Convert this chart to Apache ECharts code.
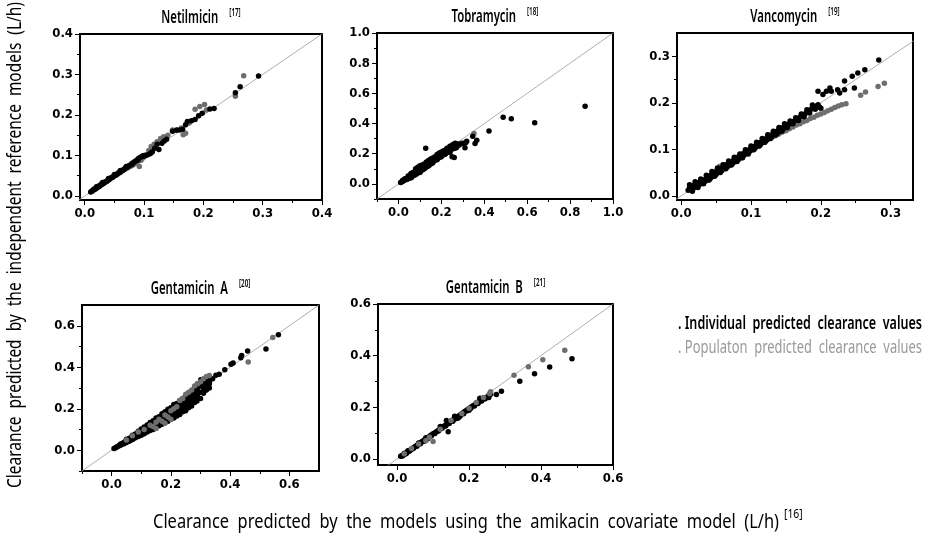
<!DOCTYPE html>
<html>
<head>
<meta charset="utf-8">
<script src="https://cdn.jsdelivr.net/npm/echarts@6/dist/echarts.min.js"></script>
<style>
html, body { margin: 0; padding: 0; background: #fff; }
#chart { width: 925px; height: 547px; }
</style>
</head>
<body>
<div id="chart"></div>
<script>
// values, [x, y] in L/h
var netIndiv = [[0.010,0.010],[0.013,0.012],[0.015,0.016],[0.017,0.016],[0.019,0.019],[0.021,0.020],[0.023,0.023],[0.025,0.024],[0.027,0.027],[0.029,0.028],[0.031,0.031],[0.033,0.032],[0.035,0.035],[0.037,0.036],[0.039,0.039],[0.041,0.040],[0.043,0.043],[0.045,0.045],[0.047,0.046],[0.049,0.049],[0.051,0.051],[0.053,0.052],[0.055,0.055],[0.057,0.057],[0.059,0.058],[0.061,0.061],[0.063,0.063],[0.065,0.064],[0.067,0.067],[0.069,0.069],[0.071,0.070],[0.073,0.073],[0.075,0.075],[0.078,0.077],[0.080,0.081],[0.083,0.083],[0.085,0.086],[0.088,0.088],[0.090,0.092],[0.093,0.095],[0.096,0.097],[0.098,0.099],[0.100,0.098],[0.103,0.100],[0.106,0.102],[0.110,0.104],[0.112,0.107],[0.114,0.109],[0.118,0.118],[0.122,0.128],[0.125,0.115],[0.130,0.130],[0.134,0.136],[0.138,0.140],[0.148,0.160],[0.155,0.163],[0.160,0.163],[0.165,0.165],[0.170,0.176],[0.173,0.184],[0.180,0.186],[0.186,0.189],[0.192,0.198],[0.198,0.204],[0.211,0.215],[0.218,0.216],[0.254,0.255],[0.262,0.270],[0.293,0.296],[0.020,0.023],[0.030,0.033],[0.040,0.043],[0.050,0.053],[0.060,0.063],[0.070,0.073],[0.080,0.078],[0.090,0.089]];
var netPop = [[0.012,0.013],[0.016,0.018],[0.020,0.022],[0.024,0.026],[0.028,0.030],[0.032,0.033],[0.036,0.036],[0.040,0.041],[0.044,0.045],[0.048,0.047],[0.052,0.051],[0.056,0.054],[0.060,0.058],[0.064,0.062],[0.068,0.066],[0.072,0.069],[0.076,0.072],[0.080,0.075],[0.084,0.079],[0.088,0.082],[0.092,0.073],[0.095,0.088],[0.098,0.094],[0.102,0.101],[0.108,0.112],[0.112,0.122],[0.117,0.128],[0.122,0.134],[0.128,0.142],[0.133,0.146],[0.140,0.150],[0.148,0.163],[0.155,0.162],[0.163,0.168],[0.166,0.151],[0.170,0.155],[0.176,0.180],[0.186,0.214],[0.194,0.221],[0.202,0.226],[0.205,0.212],[0.254,0.246],[0.268,0.297]];

var tobIndiv = [[0.010,0.010],[0.014,0.013],[0.018,0.016],[0.022,0.020],[0.026,0.024],[0.030,0.027],[0.034,0.030],[0.038,0.034],[0.042,0.037],[0.046,0.041],[0.050,0.045],[0.054,0.048],[0.058,0.052],[0.062,0.056],[0.066,0.060],[0.070,0.064],[0.074,0.068],[0.078,0.072],[0.082,0.076],[0.086,0.080],[0.090,0.085],[0.094,0.089],[0.098,0.093],[0.102,0.097],[0.106,0.101],[0.110,0.106],[0.114,0.110],[0.118,0.114],[0.122,0.118],[0.126,0.123],[0.130,0.127],[0.134,0.131],[0.138,0.135],[0.142,0.140],[0.146,0.144],[0.150,0.148],[0.154,0.152],[0.158,0.157],[0.162,0.161],[0.166,0.165],[0.170,0.169],[0.174,0.174],[0.178,0.178],[0.182,0.183],[0.186,0.187],[0.190,0.191],[0.195,0.196],[0.200,0.200],[0.205,0.205],[0.210,0.209],[0.215,0.214],[0.220,0.218],[0.225,0.222],[0.230,0.226],[0.235,0.230],[0.240,0.235],[0.245,0.238],[0.250,0.242],[0.255,0.245],[0.260,0.250],[0.265,0.253],[0.270,0.256],[0.080,0.100],[0.090,0.110],[0.060,0.040],[0.100,0.075],[0.120,0.100],[0.140,0.120],[0.160,0.140],[0.150,0.165],[0.180,0.160],[0.200,0.180],[0.220,0.200],[0.240,0.210],[0.250,0.180],[0.127,0.237],[0.300,0.270],[0.310,0.239],[0.313,0.272],[0.318,0.283],[0.346,0.316],[0.357,0.268],[0.365,0.290],[0.422,0.350],[0.488,0.442],[0.526,0.431],[0.635,0.405],[0.870,0.514],
  [0.020,0.025],[0.030,0.035],[0.040,0.030],[0.045,0.052],[0.050,0.038],[0.055,0.062],[0.060,0.070],[0.065,0.050],[0.070,0.078],[0.075,0.058],[0.080,0.088],[0.085,0.065],[0.095,0.105],[0.100,0.120],[0.105,0.085],[0.110,0.125],[0.115,0.095],[0.120,0.132],[0.125,0.105],[0.130,0.145],[0.135,0.115],[0.140,0.155],[0.145,0.125],[0.150,0.160],[0.155,0.135],[0.160,0.172],[0.165,0.150],[0.170,0.180],[0.175,0.160],[0.180,0.195],[0.185,0.170],[0.190,0.205],[0.195,0.178],[0.200,0.212],[0.205,0.190],[0.210,0.220],[0.215,0.195],[0.225,0.235],[0.230,0.210],[0.240,0.250],[0.245,0.225],[0.255,0.260],[0.260,0.235],[0.265,0.270],[0.270,0.240],[0.275,0.265],[0.280,0.255],[0.290,0.265],[0.260,0.175]];
var tobPop = [[0.050,0.050],[0.100,0.102],[0.150,0.155],[0.200,0.205],[0.230,0.240],[0.250,0.260],[0.260,0.268],[0.270,0.262],[0.290,0.270],[0.352,0.334]];

var vanIndiv = [[0.010,0.012],[0.012,0.018],[0.014,0.015],[0.016,0.022],[0.018,0.017],[0.020,0.024],[0.022,0.020],[0.024,0.028],[0.026,0.024],[0.028,0.031],[0.030,0.027],[0.032,0.034],[0.034,0.031],[0.036,0.038],[0.038,0.034],[0.040,0.042],[0.042,0.038],[0.044,0.046],[0.046,0.042],[0.048,0.050],[0.050,0.046],[0.052,0.054],[0.054,0.050],[0.056,0.058],[0.058,0.054],[0.060,0.062],[0.062,0.058],[0.064,0.066],[0.066,0.062],[0.068,0.070],[0.070,0.066],[0.072,0.074],[0.074,0.070],[0.076,0.078],[0.078,0.074],[0.080,0.082],[0.082,0.078],[0.084,0.086],[0.086,0.082],[0.088,0.090],[0.090,0.087],[0.092,0.094],[0.094,0.091],[0.096,0.098],[0.098,0.095],[0.100,0.102],[0.102,0.099],[0.104,0.106],[0.106,0.103],[0.108,0.110],[0.110,0.107],[0.112,0.114],[0.114,0.111],[0.116,0.118],[0.118,0.115],[0.120,0.122],[0.122,0.119],[0.124,0.126],[0.126,0.123],[0.128,0.130],[0.130,0.127],[0.132,0.134],[0.134,0.131],[0.136,0.138],[0.138,0.135],[0.140,0.142],[0.142,0.139],[0.144,0.146],[0.146,0.143],[0.148,0.150],[0.150,0.148],[0.153,0.154],[0.156,0.155],[0.159,0.159],[0.162,0.161],[0.165,0.164],[0.168,0.167],[0.171,0.170],[0.174,0.173],[0.177,0.176],[0.180,0.179],[0.183,0.182],[0.186,0.186],[0.189,0.190],[0.192,0.192],[0.195,0.193],[0.198,0.191],[0.196,0.225],[0.203,0.218],[0.208,0.225],[0.213,0.232],[0.215,0.225],[0.224,0.228],[0.227,0.221],[0.234,0.228],[0.234,0.247],[0.245,0.257],[0.248,0.232],[0.253,0.264],[0.263,0.271],[0.283,0.292],
  [0.012,0.024],[0.016,0.010],[0.020,0.030],[0.024,0.018],[0.028,0.036],[0.032,0.026],[0.036,0.044],[0.040,0.034],[0.044,0.052],[0.048,0.042],[0.052,0.060],[0.056,0.050],[0.060,0.067],[0.064,0.058],[0.068,0.075],[0.072,0.066],[0.076,0.083],[0.080,0.074],[0.084,0.090],[0.088,0.082],[0.092,0.099],[0.096,0.090],[0.100,0.107],[0.104,0.099],[0.108,0.115],[0.112,0.107],[0.116,0.123],[0.120,0.115],[0.124,0.131],[0.128,0.123],[0.132,0.139],[0.136,0.131],[0.140,0.147],[0.144,0.139],[0.148,0.155],[0.152,0.147],[0.156,0.161],[0.160,0.155],[0.164,0.168],[0.168,0.162],[0.172,0.176],[0.176,0.170],[0.180,0.185],[0.184,0.178],[0.188,0.195],[0.192,0.186],[0.196,0.196],[0.200,0.188]];
var vanPop = [[0.020,0.020],[0.030,0.032],[0.040,0.043],[0.050,0.054],[0.055,0.063],[0.060,0.066],[0.065,0.068],[0.070,0.072],[0.080,0.083],[0.090,0.092],[0.100,0.102],[0.110,0.111],[0.120,0.119],[0.125,0.122],[0.130,0.126],[0.135,0.129],[0.140,0.133],[0.145,0.137],[0.150,0.140],[0.155,0.144],[0.160,0.148],[0.165,0.152],[0.170,0.155],[0.175,0.159],[0.180,0.162],[0.185,0.166],[0.190,0.169],[0.195,0.173],[0.200,0.176],[0.205,0.179],[0.210,0.183],[0.215,0.186],[0.220,0.190],[0.225,0.193],[0.230,0.196],[0.236,0.198],[0.257,0.216],[0.264,0.223],[0.282,0.235],[0.291,0.242]];

var genAIndiv = [[0.008,0.008],[0.012,0.011],[0.016,0.014],[0.020,0.018],[0.024,0.021],[0.028,0.025],[0.032,0.028],[0.036,0.032],[0.040,0.036],[0.040,0.030],[0.044,0.040],[0.048,0.043],[0.048,0.036],[0.052,0.047],[0.056,0.050],[0.056,0.042],[0.060,0.055],[0.060,0.050],[0.064,0.058],[0.064,0.048],[0.068,0.062],[0.072,0.066],[0.072,0.054],[0.076,0.070],[0.080,0.074],[0.080,0.060],[0.080,0.067],[0.085,0.080],[0.090,0.085],[0.090,0.068],[0.095,0.090],[0.100,0.095],[0.100,0.076],[0.100,0.085],[0.105,0.100],[0.110,0.105],[0.110,0.084],[0.115,0.110],[0.120,0.116],[0.120,0.092],[0.120,0.104],[0.125,0.120],[0.130,0.126],[0.130,0.100],[0.135,0.130],[0.140,0.136],[0.140,0.108],[0.140,0.122],[0.145,0.140],[0.150,0.146],[0.150,0.116],[0.155,0.150],[0.160,0.156],[0.160,0.124],[0.160,0.140],[0.165,0.160],[0.170,0.166],[0.170,0.132],[0.175,0.170],[0.180,0.176],[0.180,0.140],[0.180,0.158],[0.185,0.180],[0.190,0.186],[0.190,0.150],[0.195,0.190],[0.200,0.196],[0.200,0.158],[0.200,0.176],[0.205,0.200],[0.210,0.206],[0.210,0.166],[0.215,0.210],[0.217,0.189],[0.220,0.216],[0.220,0.175],[0.220,0.195],[0.225,0.220],[0.230,0.226],[0.230,0.190],[0.235,0.230],[0.240,0.236],[0.240,0.215],[0.242,0.209],[0.245,0.240],[0.250,0.246],[0.255,0.250],[0.260,0.256],[0.265,0.262],[0.270,0.213],[0.270,0.266],[0.275,0.272],[0.280,0.278],[0.280,0.300],[0.288,0.237],[0.290,0.285],[0.290,0.320],[0.301,0.340],[0.310,0.330],[0.315,0.289],[0.320,0.316],[0.320,0.340],[0.330,0.330],[0.330,0.350],[0.341,0.345],[0.352,0.361],[0.363,0.366],[0.382,0.388],[0.403,0.414],[0.410,0.420],[0.436,0.446],[0.439,0.457],[0.459,0.478],[0.521,0.488],[0.563,0.557],
  [0.030,0.024],[0.030,0.030],[0.050,0.038],[0.050,0.046],[0.050,0.053],[0.070,0.052],[0.070,0.060],[0.070,0.072],[0.090,0.066],[0.090,0.078],[0.090,0.092],[0.110,0.080],[0.110,0.092],[0.110,0.112],[0.130,0.095],[0.130,0.110],[0.130,0.134],[0.150,0.110],[0.150,0.125],[0.150,0.140],[0.150,0.155],[0.170,0.125],[0.170,0.145],[0.170,0.158],[0.170,0.176],[0.190,0.140],[0.190,0.160],[0.190,0.175],[0.190,0.198],[0.210,0.155],[0.210,0.178],[0.210,0.192],[0.210,0.220],[0.230,0.172],[0.230,0.200],[0.230,0.215],[0.230,0.240],[0.250,0.190],[0.250,0.215],[0.250,0.232],[0.250,0.262],[0.270,0.230],[0.270,0.250],[0.270,0.285],[0.290,0.250],[0.290,0.270],[0.290,0.305],[0.310,0.275],[0.310,0.300],[0.310,0.325],[0.330,0.300],[0.330,0.320],[0.330,0.340],
  [0.060,0.045],[0.060,0.058],[0.080,0.062],[0.080,0.078],[0.100,0.072],[0.100,0.082],[0.100,0.092],[0.100,0.102],[0.120,0.088],[0.120,0.098],[0.120,0.110],[0.120,0.122],[0.140,0.100],[0.140,0.115],[0.140,0.128],[0.140,0.142],[0.160,0.118],[0.160,0.132],[0.160,0.148],[0.160,0.162],[0.180,0.132],[0.180,0.148],[0.180,0.165],[0.180,0.185],[0.200,0.150],[0.200,0.165],[0.200,0.185],[0.200,0.205],[0.220,0.165],[0.220,0.185],[0.220,0.205],[0.220,0.225],[0.240,0.185],[0.240,0.200],[0.240,0.222],[0.240,0.250],[0.260,0.205],[0.260,0.225],[0.260,0.245],[0.260,0.272],[0.280,0.230],[0.280,0.255],[0.280,0.290],[0.300,0.250],[0.300,0.280],[0.300,0.310],[0.320,0.290],[0.320,0.330]];
var genAPop = [[0.050,0.050],[0.070,0.070],[0.090,0.088],[0.110,0.100],[0.130,0.120],[0.140,0.115],[0.150,0.135],[0.150,0.105],[0.160,0.150],[0.170,0.140],[0.180,0.170],[0.180,0.130],[0.190,0.160],[0.200,0.190],[0.200,0.150],[0.210,0.200],[0.220,0.210],[0.230,0.240],[0.240,0.250],[0.250,0.270],[0.260,0.280],[0.270,0.290],[0.280,0.310],[0.290,0.320],[0.300,0.330],[0.310,0.345],[0.320,0.355],[0.330,0.360],[0.461,0.425],[0.544,0.543]];

var genBIndiv = [[0.010,0.010],[0.013,0.012],[0.016,0.014],[0.019,0.017],[0.022,0.020],[0.025,0.022],[0.028,0.025],[0.031,0.028],[0.034,0.031],[0.037,0.034],[0.040,0.037],[0.043,0.040],[0.046,0.043],[0.049,0.046],[0.052,0.049],[0.055,0.052],[0.058,0.055],[0.061,0.058],[0.064,0.061],[0.067,0.064],[0.070,0.067],[0.073,0.070],[0.076,0.073],[0.080,0.077],[0.084,0.081],[0.088,0.085],[0.092,0.089],[0.096,0.093],[0.100,0.097],[0.105,0.101],[0.110,0.106],[0.115,0.111],[0.120,0.116],[0.120,0.125],[0.125,0.121],[0.130,0.126],[0.135,0.131],[0.137,0.148],[0.140,0.136],[0.142,0.105],[0.145,0.141],[0.150,0.146],[0.155,0.150],[0.160,0.155],[0.160,0.165],[0.165,0.160],[0.170,0.165],[0.170,0.158],[0.175,0.170],[0.180,0.175],[0.185,0.180],[0.190,0.185],[0.195,0.190],[0.200,0.195],[0.200,0.188],[0.205,0.200],[0.210,0.205],[0.215,0.209],[0.220,0.214],[0.225,0.219],[0.230,0.223],[0.230,0.235],[0.235,0.227],[0.240,0.232],[0.245,0.236],[0.250,0.240],[0.255,0.245],[0.260,0.250],[0.276,0.249],[0.290,0.262],[0.341,0.301],[0.382,0.330],[0.424,0.356],[0.486,0.388],
  [0.015,0.011],[0.025,0.020],[0.035,0.030],[0.045,0.040],[0.055,0.049],[0.065,0.058],[0.075,0.068],[0.085,0.078],[0.095,0.088],[0.105,0.098],[0.115,0.108],[0.125,0.118],[0.135,0.127],[0.145,0.137],[0.155,0.146],[0.165,0.156],[0.175,0.165],[0.185,0.175],[0.195,0.186],[0.205,0.196],[0.215,0.205],[0.225,0.214],[0.235,0.224],[0.245,0.233],[0.255,0.238],[0.020,0.022],[0.030,0.031],[0.060,0.061],[0.080,0.082]];
var genBPop = [[0.020,0.020],[0.040,0.040],[0.060,0.057],[0.080,0.070],[0.090,0.084],[0.100,0.067],[0.120,0.115],[0.150,0.148],[0.180,0.176],[0.200,0.196],[0.220,0.218],[0.240,0.238],[0.257,0.253],[0.260,0.260],[0.325,0.324],[0.365,0.357],[0.405,0.384],[0.466,0.421]];

// identity line y = x
var identity = [[-1, -1], [2, 2]];

// tick values
var netTicks = [0, 0.1, 0.2, 0.3, 0.4];
var netMinor = [0.05, 0.15, 0.25, 0.35];
var tobTicks = [0, 0.2, 0.4, 0.6, 0.8, 1.0];
var tobMinor = [-0.1, 0.1, 0.3, 0.5, 0.7, 0.9];
var vanTicks = [0, 0.1, 0.2, 0.3];
var vanMinor = [0.05, 0.15, 0.25];
var genTicks = [0, 0.2, 0.4, 0.6];
var genAMinor = [-0.1, 0.1, 0.3, 0.5];
var genBMinor = [0.1, 0.3, 0.5];

var TICKFONT = "'DejaVu Sans Condensed',sans-serif";
var TXTFONT = "'Noto Sans',sans-serif";

// popTop: population dots drawn above the individual ones
var panels = [
  { name: 'Netilmicin', ref: '[17]', box: [80, 34, 242, 166], xr: [-0.008, 0.4], yr: [-0.01, 0.4],
    ticks: netTicks, minor: netMinor, indiv: netIndiv, pop: netPop, popTop: false },
  { name: 'Tobramycin', ref: '[18]', box: [377, 33, 236, 166], xr: [-0.1, 1.0], yr: [-0.1, 1.0],
    ticks: tobTicks, minor: tobMinor, indiv: tobIndiv, pop: tobPop, popTop: false },
  { name: 'Vancomycin', ref: '[19]', box: [677, 33, 236, 167], xr: [-0.006, 0.332], yr: [-0.009, 0.35],
    ticks: vanTicks, minor: vanMinor, indiv: vanIndiv, pop: vanPop, popTop: false },
  { name: 'Gentamicin  A', ref: '[20]', box: [82, 305, 237, 166], xr: [-0.1, 0.7], yr: [-0.1, 0.7],
    ticks: genTicks, minor: genAMinor, indiv: genAIndiv, pop: genAPop, popTop: true },
  { name: 'Gentamicin  B', ref: '[21]', box: [378, 304, 235, 161], xr: [-0.053, 0.6], yr: [-0.024, 0.6],
    ticks: genTicks, minor: genBMinor, indiv: genBIndiv, pop: genBPop, popTop: true }
];

// text measuring, used to squeeze a normal font to the condensed look
var mctx = document.createElement('canvas').getContext('2d');
function textW(t, font) { mctx.font = font; return mctx.measureText(t).width; }

var grids = [], xAxes = [], yAxes = [], series = [], graphics = [];

function majorAxis(i, range, ticks) {
  return {
    gridIndex: i, type: 'value', min: range[0], max: range[1],
    axisLine: { show: false, onZero: false }, splitLine: { show: false },
    axisTick: { customValues: ticks, length: 5, lineStyle: { color: '#000', width: 1 } },
    axisLabel: { customValues: ticks, formatter: function (v) { return v.toFixed(1); },
      fontFamily: TICKFONT, fontWeight: 'bold', fontSize: 13, color: '#000', margin: 7 }
  };
}
function minorAxis(i, range, minor, pos) {
  return {
    gridIndex: i, type: 'value', min: range[0], max: range[1], position: pos,
    axisLine: { show: false, onZero: false }, splitLine: { show: false }, axisLabel: { show: false },
    axisTick: { customValues: minor, length: 3, lineStyle: { color: '#000', width: 1 } }
  };
}

var titleFont = '600 18px ' + TXTFONT;
var supFont = '600 10px ' + TXTFONT;
var titleScale = 57 / textW('Netilmicin', titleFont);

panels.forEach(function (p, i) {
  grids.push({ left: p.box[0], top: p.box[1], width: p.box[2], height: p.box[3],
    show: true, borderColor: '#000', borderWidth: 2 });
  xAxes.push(majorAxis(i, p.xr, p.ticks));
  yAxes.push(majorAxis(i, p.yr, p.ticks));
  xAxes.push(minorAxis(i, p.xr, p.minor, 'bottom'));
  yAxes.push(minorAxis(i, p.yr, p.minor, 'left'));
  var ax = i * 2;
  series.push({ type: 'line', xAxisIndex: ax, yAxisIndex: ax, data: identity, symbol: 'none',
    lineStyle: { color: '#999', width: 0.8 }, silent: true, z: 1 });
  series.push({ type: 'scatter', xAxisIndex: ax, yAxisIndex: ax, data: p.indiv, symbolSize: 5.5,
    itemStyle: { color: '#000', opacity: 1 }, z: 3 });
  series.push({ type: 'scatter', xAxisIndex: ax, yAxisIndex: ax, data: p.pop, symbolSize: 5.5,
    itemStyle: { color: '#6e6e6e', opacity: 1 }, z: p.popTop ? 4 : 2 });

  // panel title with the reference number as a superscript
  var nw = textW(p.name, titleFont) * titleScale;
  var rw = textW(p.ref, supFont) * titleScale;
  var total = nw + 11 + rw;
  var x0 = p.box[0] + p.box[2] / 2 - total / 2;
  var cy = p.box[1] - 16;
  graphics.push({ type: 'text', x: x0, y: cy, scaleX: titleScale, z: 10,
    style: { text: p.name, font: titleFont, fill: '#000', align: 'left', verticalAlign: 'middle' } });
  graphics.push({ type: 'text', x: x0 + nw + 11, y: cy - 5, scaleX: titleScale, z: 10,
    style: { text: p.ref, font: supFont, fill: '#000', align: 'left', verticalAlign: 'middle' } });
});

var yTitle = 'Clearance  predicted  by  the  independent  reference  models  (L/h)';
var axFont = '19px ' + TXTFONT;
graphics.push({
  type: 'text', x: 16, y: 245, rotation: Math.PI / 2, scaleX: 486 / textW(yTitle, axFont), z: 10,
  style: { text: yTitle, font: axFont, fill: '#000', align: 'center', verticalAlign: 'middle' }
});

var xTitle = 'Clearance  predicted  by  the  models  using  the  amikacin  covariate  model  (L/h)';
var xScale = 626 / textW(xTitle, axFont);
graphics.push({
  type: 'text', x: 153, y: 523, scaleX: xScale, z: 10,
  style: { text: xTitle, font: axFont, fill: '#000', align: 'left', verticalAlign: 'middle' }
});
graphics.push({
  type: 'text', x: 784, y: 515, scaleX: xScale, z: 10,
  style: { text: '[16]', font: '12px ' + TXTFONT, fill: '#000', align: 'left', verticalAlign: 'middle' }
});

var leg1 = '. Individual  predicted  clearance  values';
var leg2 = '. Populaton  predicted  clearance  values';
var legFont1 = '600 18px ' + TXTFONT;
var legFont2 = '18px ' + TXTFONT;
graphics.push({
  type: 'text', x: 678, y: 324, scaleX: 244 / textW(leg1, legFont1), z: 10,
  style: { text: leg1, font: legFont1, fill: '#000', align: 'left', verticalAlign: 'middle' }
});
graphics.push({
  type: 'text', x: 678, y: 348, scaleX: 244 / textW(leg2, legFont2), z: 10,
  style: { text: leg2, font: legFont2, fill: '#999', align: 'left', verticalAlign: 'middle' }
});

var myChart = echarts.init(document.getElementById('chart'));
myChart.setOption({
  animation: false,
  backgroundColor: '#fff',
  grid: grids,
  xAxis: xAxes,
  yAxis: yAxes,
  series: series,
  graphic: graphics
});
</script>
</body>
</html>
